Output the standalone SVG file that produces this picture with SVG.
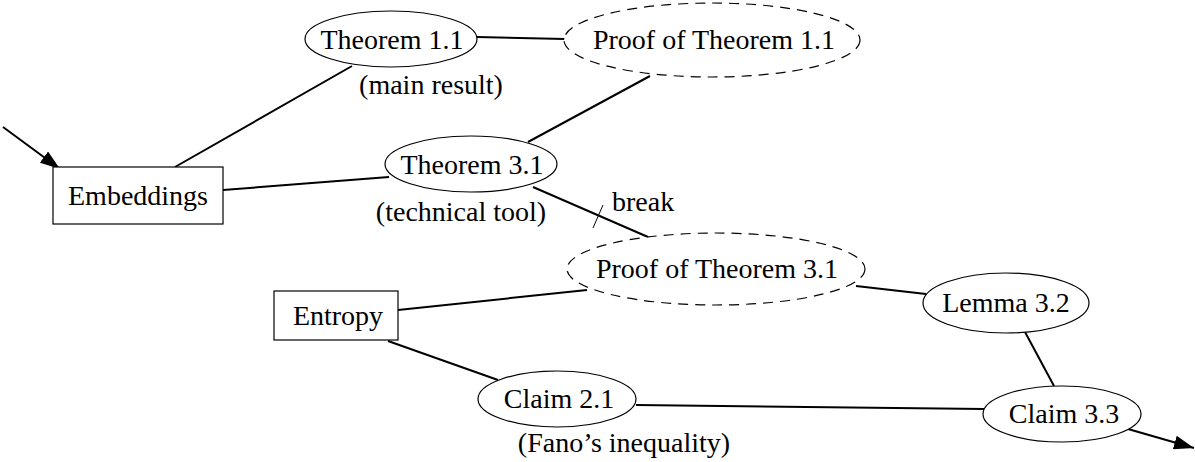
<svg xmlns="http://www.w3.org/2000/svg" width="1195" height="462" viewBox="0 0 1195 462" font-family="Liberation Serif, Times New Roman, serif">
<style>
text{font-family:"Liberation Serif","Times New Roman",serif;font-size:28px;fill:#000;text-anchor:middle}
.n{fill:#fff;stroke:#000;stroke-width:1.2}
.d{fill:#fff;stroke:#000;stroke-width:1.2;stroke-dasharray:10 7}
.e{stroke:#000;stroke-width:2;fill:none}
</style>
<defs>
<marker id="arr" viewBox="0 0 20 14" refX="20" refY="7" markerWidth="20" markerHeight="14" markerUnits="userSpaceOnUse" orient="auto">
<path d="M0,0 L20,7 L0,14 Z" fill="#000"/>
</marker>
</defs>
<g id="connectors">
<line class="e" x1="3" y1="127" x2="60" y2="169" marker-end="url(#arr)"/>
<line class="e" x1="175" y1="167" x2="352" y2="66"/>
<line class="e" x1="477" y1="37" x2="565" y2="39"/>
<line class="e" x1="528" y1="142" x2="650" y2="76"/>
<line class="e" x1="223" y1="190" x2="389" y2="177"/>
<line class="e" x1="533" y1="187" x2="648" y2="237"/>
<line stroke="#000" stroke-width="1" x1="603" y1="205" x2="593" y2="228"/>
<text x="612" y="211" style="text-anchor:start">break</text>
<line class="e" x1="398" y1="310" x2="587" y2="290"/>
<line class="e" x1="856" y1="286" x2="926" y2="294"/>
<line class="e" x1="388" y1="341" x2="498" y2="380"/>
<line class="e" x1="1025" y1="332" x2="1054" y2="386"/>
<line class="e" x1="636" y1="405" x2="984" y2="409"/>
<line class="e" x1="1128" y1="429" x2="1194" y2="448" marker-end="url(#arr)"/>
</g>
<g id="thm11">
<ellipse class="n" cx="391" cy="39" rx="86" ry="28"/>
<text x="392" y="49">Theorem 1.1</text>
<text x="431" y="94">(main result)</text>
</g>
<g id="proof11">
<ellipse class="d" cx="712" cy="40" rx="148" ry="37"/>
<text x="714" y="49">Proof of Theorem 1.1</text>
</g>
<g id="embeddings">
<rect class="n" x="53" y="167" width="170" height="57"/>
<text x="138" y="205">Embeddings</text>
</g>
<g id="thm31">
<ellipse class="n" cx="471" cy="164" rx="86" ry="28"/>
<text x="472" y="174">Theorem 3.1</text>
<text x="461" y="221">(technical tool)</text>
</g>
<g id="proof31">
<ellipse class="d" cx="716" cy="269" rx="149" ry="36"/>
<text x="717" y="278">Proof of Theorem 3.1</text>
</g>
<g id="entropy">
<rect class="n" x="274" y="291" width="124" height="49"/>
<text x="338" y="325">Entropy</text>
</g>
<g id="lemma32">
<ellipse class="n" cx="1006" cy="303" rx="83" ry="30"/>
<text x="1006" y="312">Lemma 3.2</text>
</g>
<g id="claim21">
<ellipse class="n" cx="557" cy="399" rx="79" ry="28"/>
<text x="559" y="408">Claim 2.1</text>
<text x="624" y="452">(Fano’s inequality)</text>
</g>
<g id="claim33">
<ellipse class="n" cx="1062" cy="414" rx="79" ry="28"/>
<text x="1064" y="423">Claim 3.3</text>
</g>
</svg>
